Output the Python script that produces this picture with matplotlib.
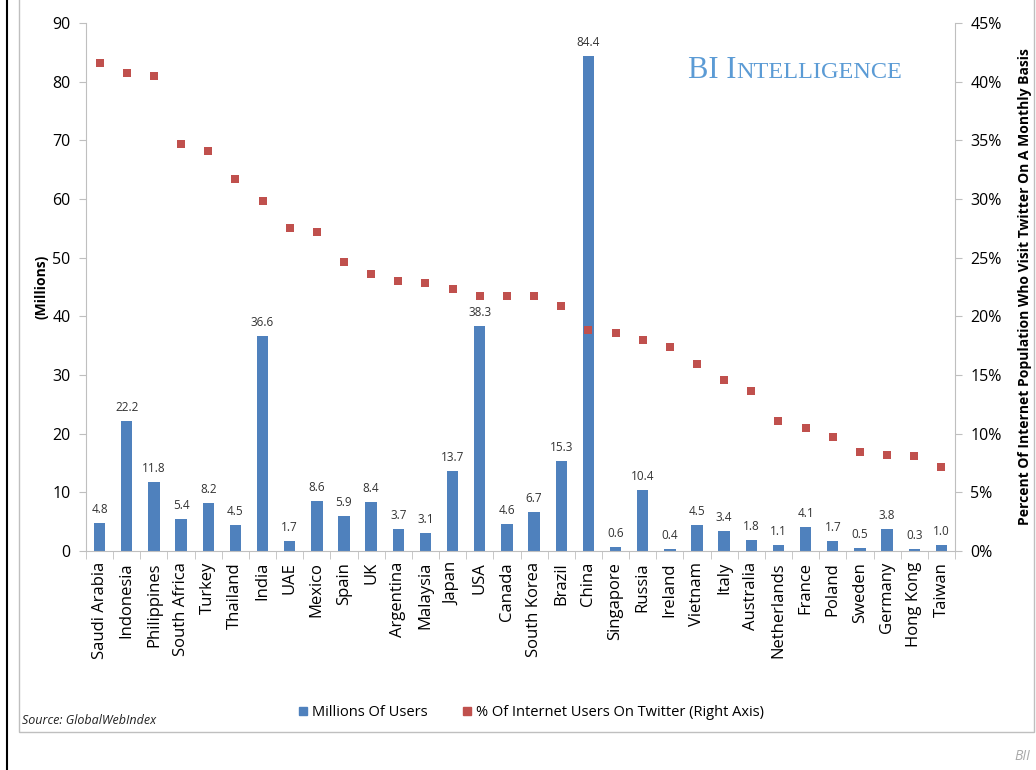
import matplotlib
matplotlib.use("Agg")
import matplotlib.pyplot as plt
from matplotlib.patches import Rectangle
from matplotlib.lines import Line2D
import numpy as np

countries = ["Saudi Arabia", "Indonesia", "Philippines", "South Africa", "Turkey", "Thailand",
             "India", "UAE", "Mexico", "Spain", "UK", "Argentina", "Malaysia", "Japan", "USA",
             "Canada", "South Korea", "Brazil", "China", "Singapore", "Russia", "Ireland",
             "Vietnam", "Italy", "Australia", "Netherlands", "France", "Poland", "Sweden",
             "Germany", "Hong Kong", "Taiwan"]
users_millions = [4.8, 22.2, 11.8, 5.4, 8.2, 4.5, 36.6, 1.7, 8.6, 5.9, 8.4, 3.7, 3.1, 13.7,
                  38.3, 4.6, 6.7, 15.3, 84.4, 0.6, 10.4, 0.4, 4.5, 3.4, 1.8, 1.1, 4.1, 1.7,
                  0.5, 3.8, 0.3, 1.0]
pct_on_twitter = [41.6, 40.7, 40.5, 34.7, 34.1, 31.7, 29.8, 27.5, 27.2, 24.6, 23.6, 23.0,
                  22.8, 22.3, 21.7, 21.7, 21.7, 20.9, 18.8, 18.6, 18.0, 17.4, 15.9, 14.6,
                  13.6, 11.1, 10.5, 9.7, 8.4, 8.2, 8.1, 7.2]
left_ticks = [0, 10, 20, 30, 40, 50, 60, 70, 80, 90]
right_ticks = [0, 5, 10, 15, 20, 25, 30, 35, 40, 45]

FONT = ["Open Sans", "DejaVu Sans"]
plt.rcParams['font.family'] = FONT
BLUE = "#4f81bd"
RED = "#c0504d"
GREY = "#bfbfbf"

W, H = 1036, 770
fig = plt.figure(figsize=(W / 100, H / 100), dpi=100)
fig.patch.set_facecolor("white")

# frame lines
fig.add_artist(Line2D([7 / W, 7 / W], [0, 1], color="black", lw=1.5, transform=fig.transFigure))
fig.add_artist(Rectangle((19 / W, 1 - 732 / H), (1034 - 19) / W, 732 / H + 0.01, fill=False,
                         edgecolor=GREY, lw=1, transform=fig.transFigure))

ax_l, ax_r, ax_t, ax_b = 86, 955, 23, 551
ax = fig.add_axes([ax_l / W, 1 - ax_b / H, (ax_r - ax_l) / W, (ax_b - ax_t) / H])
x = np.arange(len(countries))
bars = ax.bar(x, users_millions, width=0.42, color=BLUE, zorder=2)
for xi, v in zip(x, users_millions):
    ax.text(xi, v + 1.2, f"{v:.1f}", ha="center", va="bottom", fontsize=8.5, color="#333333")
ax.set_xlim(-0.5, len(countries) - 0.5)
ax.set_ylim(0, 90)
ax.set_yticks(left_ticks)
ax.set_yticklabels([str(t) for t in left_ticks], fontsize=11.5)
ax.set_xticks(x)
ax.set_xticklabels(countries, rotation=90, fontsize=12)
ax.set_xticks(np.arange(-0.5, len(countries)), minor=True)
ax.tick_params(axis="x", which="major", length=0, pad=8)
ax.tick_params(axis="x", which="minor", length=6, color=GREY)
ax.tick_params(axis="y", length=5, color=GREY, pad=6)
for s in ["top", "right"]:
    ax.spines[s].set_visible(False)
ax.spines["left"].set_color(GREY)
ax.spines["bottom"].set_color(GREY)
ax.set_ylabel("(Millions)", fontsize=10, fontweight="bold", labelpad=3)

ax2 = ax.twinx()
ax2.scatter(x, pct_on_twitter, marker="s", s=30, color=RED, zorder=3, linewidths=0)
ax2.set_ylim(0, 45)
ax2.set_yticks(right_ticks)
ax2.set_yticklabels([f"{t}%" for t in right_ticks], fontsize=11.5)
ax2.tick_params(axis="y", length=5, color=GREY, pad=6)
for s in ["top", "left", "bottom"]:
    ax2.spines[s].set_visible(False)
ax2.spines["right"].set_color(GREY)
ax2.set_ylabel("Percent Of Internet Population Who Visit Twitter On A Monthly Basis",
               fontsize=10, fontweight="bold", labelpad=12)

# BI Intelligence logo (small caps)
fig.canvas.draw()
t1 = fig.text(688 / W, 1 - 78 / H, "BI I", fontsize=22, color="#5b9bd5",
              family=["Liberation Serif", "DejaVu Serif"], va="baseline")
fig.canvas.draw()
bb = t1.get_window_extent()
fig.text(bb.x1 / W, 1 - 78 / H, "NTELLIGENCE", fontsize=17.5, color="#5b9bd5",
         family=["Liberation Serif", "DejaVu Serif"], va="baseline")

# legend
handles = [Line2D([], [], marker="s", linestyle="none", color=BLUE, markersize=6),
           Line2D([], [], marker="s", linestyle="none", color=RED, markersize=6)]
fig.legend(handles, ["Millions Of Users", "% Of Internet Users On Twitter (Right Axis)"],
           loc="center", bbox_to_anchor=(530 / W, 1 - 713 / H), ncol=2, frameon=False,
           fontsize=10.5, handletextpad=0.1, columnspacing=2.2, handlelength=1)

fig.text(22 / W, 1 - 720 / H, "Source: GlobalWebIndex", fontsize=9, style="italic",
         va="center", color="#222222")
fig.text(1030 / W, 1 - 756 / H, "BII", fontsize=10, style="italic", color="#aaaaaa",
         ha="right", va="center")

fig.savefig("out.png", dpi=100)
